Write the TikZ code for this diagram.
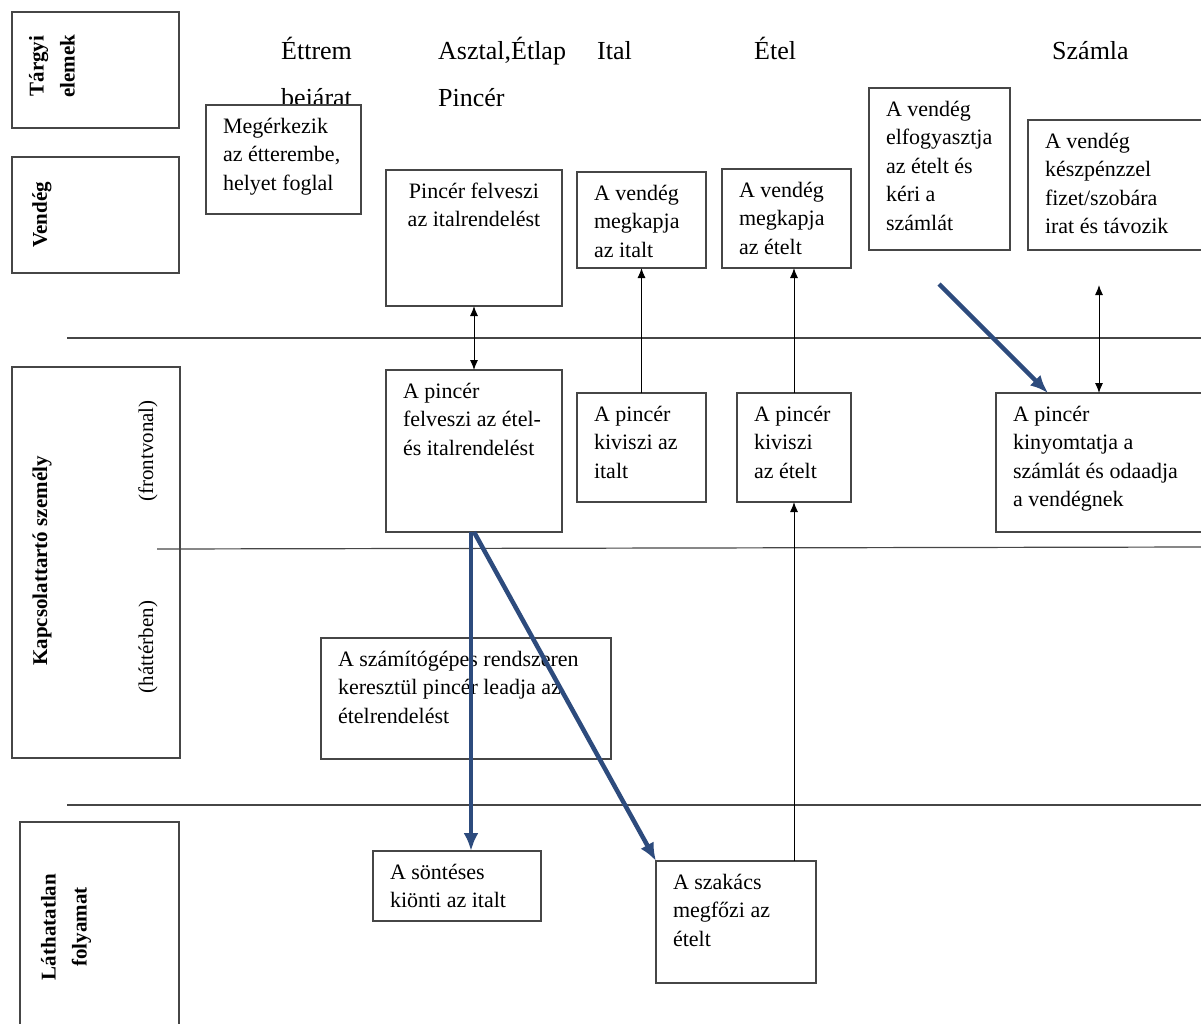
\documentclass[tikz,border=0pt]{standalone}
\usepackage{fontspec}
\setmainfont{Liberation Serif}
\usetikzlibrary{arrows.meta,calc}
\definecolor{arrblue}{RGB}{45,75,125}
\definecolor{linegray}{RGB}{70,70,70}
\newcommand\boxtxt[3]{\parbox[c][#2pt][t]{#1pt}{\vspace*{8.5pt}\hspace*{17pt}\begin{tabular}[t]{@{}l@{}}#3\end{tabular}}}
\newcommand\boxctr[3]{\parbox[c][#2pt][t]{#1pt}{\vspace*{8.5pt}\centering\begin{tabular}[t]{@{}c@{}}#3\end{tabular}\par}}
\begin{document}
\begin{tikzpicture}[x=1pt,y=-1pt,
  bx/.style={draw=linegray,line width=1.2pt,fill=white,inner sep=0pt,outer sep=0pt,anchor=north west,font=\fontsize{22}{28.5}\selectfont},
  lbl/.style={draw=linegray,line width=1.2pt,anchor=north west,inner sep=0pt,outer sep=0pt},
  side/.style={rotate=90,font=\bfseries\fontsize{21}{31}\selectfont,align=center,inner sep=0pt},
  sub/.style={rotate=90,font=\fontsize{21}{26}\selectfont,inner sep=0pt},
  hdr/.style={anchor=base west,font=\fontsize{26}{30}\selectfont,inner sep=0pt},
  sep/.style={draw=linegray,line width=1.2pt},
  conn/.style={draw=black,line width=1pt,-{Latex[length=10pt,width=8pt]}},
  conntwo/.style={draw=black,line width=1pt,{Latex[length=10pt,width=8pt]}-{Latex[length=10pt,width=8pt]}},
  flow/.style={draw=arrblue,line width=4.5pt,-{Latex[length=18pt,width=15pt]}}]
\useasboundingbox (0,0) rectangle (1201,1023);
\clip (0,0) rectangle (1201,1023);

% left label boxes
\node[lbl,minimum width=167pt,minimum height=116pt] (tbox) at (12,12) {};
\node[lbl,minimum width=167pt,minimum height=116pt] (vbox) at (12,157) {};
\node[lbl,minimum width=168pt,minimum height=391pt] (kbox) at (12,367) {};
\node[lbl,minimum width=159pt,minimum height=230pt] (lbox) at (20,822) {};
\node[side] (tlab) at (52,66) {Tárgyi\\elemek};
\node[side] (vlab) at (42,215) {Vendég};
\node[side] (klab) at (42,561) {Kapcsolattartó személy};
\node[sub] (flab) at (148,451) {(frontvonal)};
\node[sub] (hlab) at (148,647) {(háttérben)};
\node[side] (llab) at (66,927) {Láthatatlan\\folyamat};

% separator lines
\draw[sep] (67,338) -- (1201,338);
\draw[sep] (157,549) -- (1201,547);
\draw[sep] (67,805) -- (1201,805);

% headers
\node[hdr] (h1) at (281,59) {Éttrem};
\node[hdr] (h2) at (438,59) {Asztal,Étlap};
\node[hdr] (h3) at (597,59) {Ital};
\node[hdr] (h4) at (754,59) {Étel};
\node[hdr] (h5) at (1052,59) {Számla};
\node[hdr] (h6) at (281,106) {bejárat};
\node[hdr] (h7) at (438,106) {Pincér};

% process boxes
\node[bx] (mega) at (206,105) {\boxtxt{155}{109}{Megérkezik\\az étterembe,\\helyet foglal}};
\node[bx] (pfi) at (386,170) {\boxctr{176}{136}{Pincér felveszi\\az italrendelést}};
\node[bx] (vmi) at (577,172) {\boxtxt{129}{96}{A vendég\\megkapja\\az italt}};
\node[bx] (vme) at (722,169) {\boxtxt{129}{99}{A vendég\\megkapja\\az ételt}};
\node[bx] (vel) at (869,88) {\boxtxt{141}{162}{A vendég\\elfogyasztja\\az ételt és\\kéri a\\számlát}};
\node[bx] (vke) at (1028,120) {\boxtxt{185}{130}{A vendég\\készpénzzel\\fizet/szobára\\irat és távozik}};
\node[bx] (pfe) at (386,370) {\boxtxt{176}{162}{A pincér\\felveszi az étel-\\és italrendelést}};
\node[bx] (pki) at (577,393) {\boxtxt{129}{109}{A pincér\\kiviszi az\\italt}};
\node[bx] (pke) at (737,393) {\boxtxt{114}{109}{A pincér\\kiviszi\\az ételt}};
\node[bx] (pkn) at (996,393) {\boxtxt{215}{139}{A pincér\\kinyomtatja a\\számlát és odaadja\\a vendégnek}};
\node[bx] (szr) at (321,638) {\boxtxt{290}{121}{A számítógépes rendszeren\\keresztül pincér leadja az\\ételrendelést}};
\node[bx] (son) at (373,851) {\boxtxt{168}{70}{A söntéses\\kiönti az italt}};
\node[bx] (sza) at (656,861) {\boxtxt{160}{122}{A szakács\\megfőzi az\\ételt}};

% black connectors
\draw[conntwo] (pfi.south) -- (pfe.north);
\draw[conn] (pki.north) -- (vmi.south);
\draw[conn] (pke.north) -- (pke.north |- vme.south);
\draw[conn] (sza.north -| pke.south) -- (pke.south);
\coordinate (sztop) at (1099,285);
\draw[conntwo] (sztop) -- (sztop |- pkn.north);

% blue flow arrows
\coordinate (blst) at (939,284);
\draw[flow] (blst) -- ($(pkn.north west)+(52,0)$);
\draw[flow] ($(pfe.south)+(-3,0)$) -- ($(pfe.south |- son.north)+(-3,0)$);
\draw[flow] (pfe.south) -- (sza.north west);
\end{tikzpicture}
\end{document}
